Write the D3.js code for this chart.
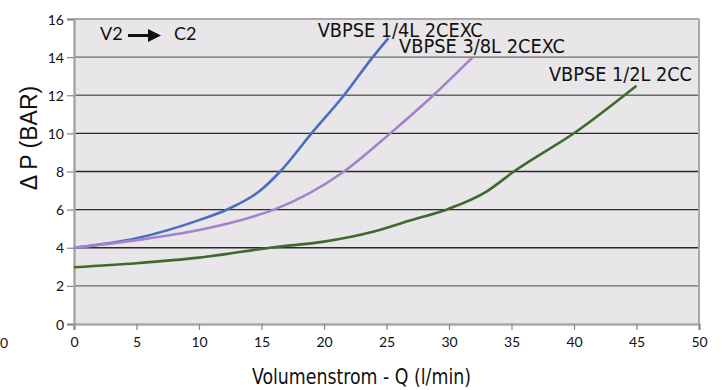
<!DOCTYPE html>
<meta charset="utf-8">
<style>
body { margin: 0; background: #fff; }
.tick text { font-family: Lato, "DejaVu Sans", sans-serif; font-size: 14px; fill: #111; }
.lbl { font-family: "Liberation Sans Narrow", "DejaVu Sans Condensed", sans-serif; fill: #111; }
</style>
<svg width="722" height="390"></svg>
<script src="https://d3js.org/d3.v7.min.js"></script>
<script>

// data: [Q l/min, dP bar]
var blue = [[0,4],[5,4.5],[10,5.45],[12.3,6.02],[14.9,7.0],[16.5,8.0],[19,10],[21.6,12],[23.9,14],[25.15,15]];
var purple = [[0,4],[5,4.4],[10,4.93],[14.3,5.63],[16,6.0],[21.6,8],[25.3,10],[28.75,12],[31.9,14]];
var green = [[0,2.98],[5,3.19],[10,3.48],[16,4.03],[20,4.32],[24,4.85],[27,5.45],[30,6.05],[33,6.95],[35.3,8.05],[40.2,10.1],[45,12.5]];
var names = ["VBPSE 1/4L 2CEXC", "VBPSE 3/8L 2CEXC", "VBPSE 1/2L 2CC"];
var xTicks = [0,5,10,15,20,25,30,35,40,45,50];
var yTicks = [0,2,4,6,8,10,12,14,16];

var series = [blue, purple, green];
var colors = ["#4a6dbf", "#a383cb", "#3f6a2b"];
// where the names sit, in data units
var labelAt = [[19.5,15.07],[26.0,14.2],[38.0,12.77]];
var labelW = [165, 166, 143];

var svg = d3.select("svg");

var x = d3.scaleLinear().domain([0,50]).range([74,699]);
var y = d3.scaleLinear().domain([0,16]).range([324,19]);

svg.append("rect")
    .attr("x", x(0)).attr("y", y(16))
    .attr("width", x(50) - x(0)).attr("height", y(0) - y(16))
    .attr("fill", "#e8e6e8");

// gridlines
svg.append("g").selectAll("line")
    .data(yTicks.filter(function(d) { return d > 0 && d < 16; }))
    .enter().append("line")
      .attr("x1", x(0)).attr("x2", x(50))
      .attr("y1", function(d) { return y(d); })
      .attr("y2", function(d) { return y(d); })
      .attr("stroke", function(d) { return (d >= 12 || d == 2) ? "#6a6a6a" : "#2a2a2a"; })
      .attr("stroke-width", 1.3);

// frame
svg.append("line").attr("x1", x(0)).attr("x2", x(50)).attr("y1", y(16)).attr("y2", y(16))
    .attr("stroke", "#a8a8a8").attr("stroke-width", 2);
svg.append("line").attr("x1", x(50)).attr("x2", x(50)).attr("y1", y(16)).attr("y2", y(0))
    .attr("stroke", "#a8a8a8").attr("stroke-width", 2);

var yAxis = svg.append("g")
    .attr("transform", "translate(" + x(0) + ",0)")
    .call(d3.axisLeft(y).tickValues(yTicks).tickSize(7).tickPadding(3));
var xAxis = svg.append("g")
    .attr("transform", "translate(0," + y(0) + ")")
    .call(d3.axisBottom(x).tickValues(xTicks).tickSize(6).tickPadding(7));

[yAxis, xAxis].forEach(function(a) {
  a.select(".domain").attr("stroke", "#a8a8a8").attr("stroke-width", 2.5);
  a.selectAll(".tick line").attr("stroke", "#888").attr("stroke-width", 1.2);
});
yAxis.selectAll(".tick text").attr("dy", "0.36em");

var line = d3.line()
    .x(function(d) { return x(d[0]); })
    .y(function(d) { return y(d[1]); })
    .curve(d3.curveMonotoneX);

svg.append("g").selectAll("path")
    .data(series)
    .enter().append("path")
      .attr("d", line)
      .attr("fill", "none")
      .attr("stroke", function(d, i) { return colors[i]; })
      .attr("stroke-width", 2.6);

svg.append("g").selectAll("text")
    .data(names)
    .enter().append("text")
      .attr("class", "lbl")
      .attr("x", function(d, i) { return x(labelAt[i][0]); })
      .attr("y", function(d, i) { return y(labelAt[i][1]); })
      .attr("font-size", 19)
      .attr("textLength", function(d, i) { return labelW[i]; })
      .attr("lengthAdjust", "spacingAndGlyphs")
      .text(function(d) { return d; });

// V2 -> C2
var note = svg.append("g").attr("font-family", "Lato, 'DejaVu Sans', sans-serif").attr("font-size", 18).attr("fill", "#111");
note.append("text").attr("x", 100).attr("y", 40).text("V2");
note.append("text").attr("x", 174).attr("y", 40).text("C2");
note.append("line").attr("x1", 128).attr("x2", 150).attr("y1", 35.5).attr("y2", 35.5)
    .attr("stroke", "#111").attr("stroke-width", 3);
note.append("path").attr("d", "M148,29L161,35.5L148,42Z").attr("fill", "#111");

// stray label at the far left
svg.append("text").attr("x", 0).attr("y", 348)
    .attr("font-family", "Lato, 'DejaVu Sans', sans-serif").attr("font-size", 14).attr("fill", "#111")
    .text("0");

// axis titles
svg.append("text")
    .attr("transform", "translate(37,138) rotate(-90)")
    .attr("text-anchor", "middle")
    .attr("font-family", "'Liberation Sans', Arial, sans-serif")
    .attr("font-size", 23).attr("fill", "#111")
    .text("\u0394 P (BAR)");

svg.append("text")
    .attr("class", "lbl")
    .attr("x", 252).attr("y", 384)
    .attr("font-size", 21)
    .attr("textLength", 219)
    .attr("lengthAdjust", "spacingAndGlyphs")
    .text("Volumenstrom - Q (l/min)");

</script>
